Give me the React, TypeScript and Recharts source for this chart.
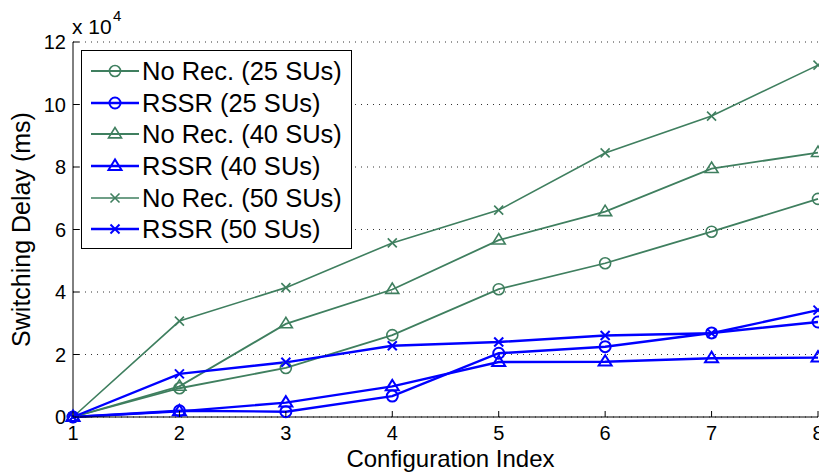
import { LineChart, Line, XAxis, YAxis, CartesianGrid, Legend, Label } from 'recharts';

// Configuration index on the x axis
const configIndex = [1, 2, 3, 4, 5, 6, 7, 8];

// Switching delay (ms)
const noRec25 = [0, 9200, 15700, 26200, 40900, 49200, 59300, 69800];
const rssr25 = [0, 2000, 1700, 6700, 20400, 22500, 26900, 30400];
const noRec40 = [0, 9800, 29800, 40800, 56600, 65700, 79500, 84600];
const rssr40 = [0, 1800, 4600, 9800, 17600, 17700, 18800, 19000];
const noRec50 = [0, 30700, 41400, 55700, 66200, 84500, 96300, 112600];
const rssr50 = [0, 13800, 17500, 22800, 24000, 26100, 26800, 34200];

const yTicks = [0, 20000, 40000, 60000, 80000, 100000, 120000];

const GREEN = '#3f7f5f';
const BLUE = '#0000ff';
const FONT = '"Liberation Sans", Arial, Helvetica, sans-serif';

type Shape = 'circle' | 'triangle' | 'cross';

const seriesList: { key: string; name: string; color: string; shape: Shape; width: number }[] = [
  { key: 'noRec25', name: 'No Rec. (25 SUs)', color: GREEN, shape: 'circle', width: 1.8 },
  { key: 'rssr25', name: 'RSSR (25 SUs)', color: BLUE, shape: 'circle', width: 2.4 },
  { key: 'noRec40', name: 'No Rec. (40 SUs)', color: GREEN, shape: 'triangle', width: 1.8 },
  { key: 'rssr40', name: 'RSSR (40 SUs)', color: BLUE, shape: 'triangle', width: 2.4 },
  { key: 'noRec50', name: 'No Rec. (50 SUs)', color: GREEN, shape: 'cross', width: 1.6 },
  { key: 'rssr50', name: 'RSSR (50 SUs)', color: BLUE, shape: 'cross', width: 2.4 },
];

const data = configIndex.map((x, i) => ({
  x,
  noRec25: noRec25[i],
  rssr25: rssr25[i],
  noRec40: noRec40[i],
  rssr40: rssr40[i],
  noRec50: noRec50[i],
  rssr50: rssr50[i],
}));

const Marker = ({ cx, cy, shape, color, sw }: any) => {
  if (shape === 'circle') {
    return <circle cx={cx} cy={cy} r={5.5} fill="none" stroke={color} strokeWidth={sw} />;
  }
  if (shape === 'triangle') {
    const s = 6.5;
    return (
      <polygon
        points={`${cx},${cy - s} ${cx - s},${cy + s * 0.6} ${cx + s},${cy + s * 0.6}`}
        fill="none"
        stroke={color}
        strokeWidth={sw}
      />
    );
  }
  const d = 4.5;
  return (
    <g stroke={color} strokeWidth={sw}>
      <line x1={cx - d} y1={cy - d} x2={cx + d} y2={cy + d} />
      <line x1={cx - d} y1={cy + d} x2={cx + d} y2={cy - d} />
    </g>
  );
};

const BottomTick = ({ x, y, payload }: any) => (
  <g>
    <line x1={x} y1={y} x2={x} y2={y - 6} stroke="#000" />
    <text x={x} y={y + 23} textAnchor="middle" fontSize={20} fontFamily={FONT} fill="#000">
      {payload.value}
    </text>
  </g>
);

const TopTick = ({ x, y }: any) => <line x1={x} y1={y} x2={x} y2={y + 6} stroke="#000" />;

const LeftTick = ({ x, y, payload }: any) => (
  <g>
    <line x1={x} y1={y} x2={x + 6} y2={y} stroke="#000" />
    <text x={x - 7} y={y + 7} textAnchor="end" fontSize={20} fontFamily={FONT} fill="#000">
      {payload.value / 10000}
    </text>
  </g>
);

const RightTick = ({ x, y }: any) => <line x1={x} y1={y} x2={x - 6} y2={y} stroke="#000" />;

const YTitle = ({ viewBox }: any) => {
  const cy = viewBox.y + viewBox.height / 2;
  return (
    <g>
      <text
        x={30}
        y={cy}
        transform={`rotate(-90, 30, ${cy})`}
        textAnchor="middle"
        fontSize={25}
        fontFamily={FONT}
        fill="#000"
      >
        Switching Delay (ms)
      </text>
      <text x={72} y={34} fontSize={21} fontFamily={FONT} fill="#000">
        x 10
      </text>
      <text x={113} y={21} fontSize={15} fontFamily={FONT} fill="#000">
        4
      </text>
    </g>
  );
};

const XTitle = ({ viewBox }: any) => (
  <text
    x={viewBox.x + viewBox.width / 2 + 5}
    y={467}
    textAnchor="middle"
    fontSize={24}
    fontFamily={FONT}
    fill="#000"
  >
    Configuration Index
  </text>
);

const LegendBox = () => (
  <div
    style={{
      width: 271,
      height: 199,
      border: '1px solid #000',
      background: '#fff',
      boxSizing: 'border-box',
      paddingTop: 4,
      fontFamily: FONT,
    }}
  >
    {seriesList.map((s) => (
      <div key={s.key} style={{ display: 'flex', alignItems: 'center', height: 31.7 }}>
        <svg width={60} height={24} style={{ flex: 'none' }}>
          <line x1={9} y1={12} x2={57} y2={12} stroke={s.color} strokeWidth={s.width} />
          <Marker cx={33} cy={12} shape={s.shape} color={s.color} sw={s.color === BLUE ? 2 : 1.6} />
        </svg>
        <span style={{ fontSize: 25.5, color: '#000', whiteSpace: 'nowrap', lineHeight: '28px' }}>{s.name}</span>
      </div>
    ))}
  </div>
);

const App = () => {
  return (
    <div style={{ position: 'absolute', left: 0, top: 0, width: 819, height: 475, background: '#fff' }}>
      <LineChart width={819} height={475} data={data} margin={{ top: 42, right: 1, left: 0, bottom: 0 }}>
        <CartesianGrid vertical={false} stroke="#333" strokeDasharray="1 5" />
        <XAxis
          dataKey="x"
          type="number"
          domain={[1, 8]}
          ticks={configIndex}
          interval={0}
          height={58}
          tickSize={0}
          tickMargin={0}
          tickLine={false}
          tick={<BottomTick />}
          axisLine={{ stroke: '#000' }}
        >
          <Label content={<XTitle />} />
        </XAxis>
        <XAxis
          xAxisId="top"
          orientation="top"
          type="number"
          domain={[1, 8]}
          ticks={configIndex}
          interval={0}
          height={0}
          tickSize={0}
          tickMargin={0}
          tickLine={false}
          tick={<TopTick />}
          axisLine={{ stroke: '#000' }}
        />
        <YAxis
          type="number"
          domain={[0, 120000]}
          ticks={yTicks}
          interval={0}
          width={73}
          tickSize={0}
          tickMargin={0}
          tickLine={false}
          tick={<LeftTick />}
          axisLine={{ stroke: '#000' }}
        >
          <Label content={<YTitle />} />
        </YAxis>
        <YAxis
          yAxisId="right"
          orientation="right"
          type="number"
          domain={[0, 120000]}
          ticks={yTicks}
          interval={0}
          width={0}
          tickSize={0}
          tickMargin={0}
          tickLine={false}
          tick={<RightTick />}
          axisLine={{ stroke: '#000' }}
        />
        <Legend
          layout="vertical"
          align="center"
          verticalAlign="middle"
          wrapperStyle={{ left: 81, top: 50, width: 272, height: 200 }}
          content={() => <LegendBox />}
        />
        {seriesList.map((s) => (
          <Line
            key={s.key}
            dataKey={s.key}
            name={s.name}
            type="linear"
            stroke={s.color}
            strokeWidth={s.width}
            isAnimationActive={false}
            dot={(p: any) => (
              <Marker
                key={`${s.key}-${p.index}`}
                cx={p.cx}
                cy={p.cy}
                shape={s.shape}
                color={s.color}
                sw={s.color === BLUE ? 2 : 1.6}
              />
            )}
            activeDot={false}
          />
        ))}
      </LineChart>
    </div>
  );
};

export default App;
